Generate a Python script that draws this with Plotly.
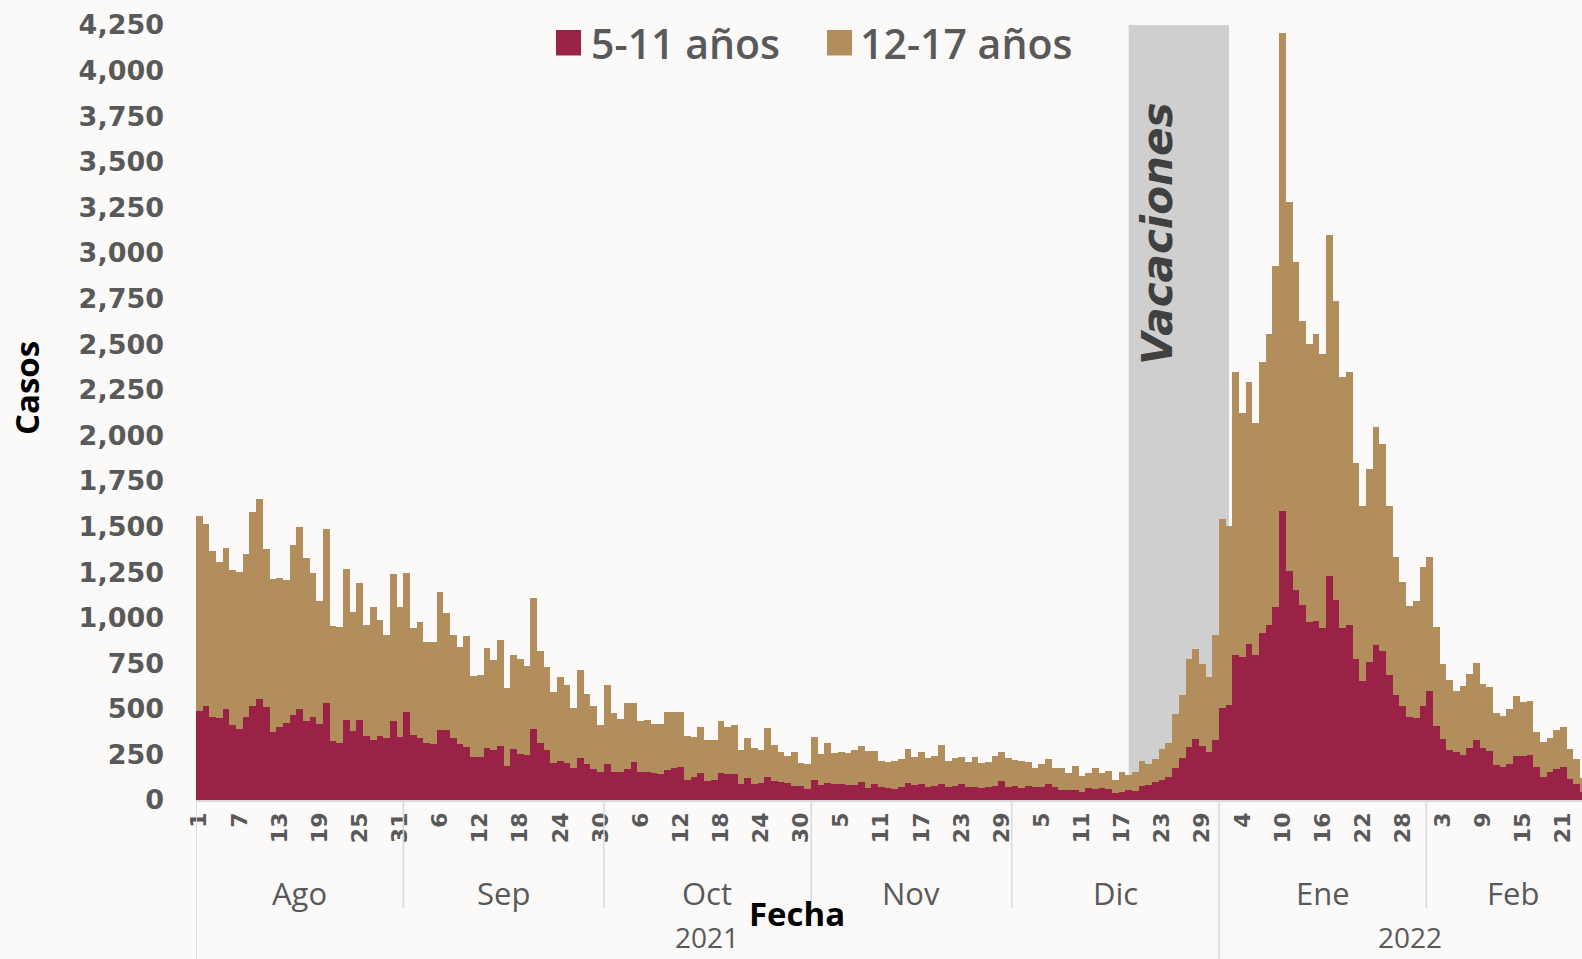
import pandas as pd
import plotly.graph_objects as go

# ---------------- data ----------------
fechas = pd.date_range("2021-08-01", "2022-02-24", freq="D")

casos_5_11 = [
    490, 515, 457, 448, 497, 411, 388, 453, 515, 556,
    508, 375, 402, 424, 464, 501, 435, 453, 417, 530,
    324, 311, 439, 378, 439, 353, 329, 351, 342, 433,
    347, 484, 356, 338, 311, 305, 384, 384, 338, 305,
    293, 238, 238, 283, 274, 298, 188, 278, 252, 247,
    388, 311, 274, 201, 216, 201, 174, 229, 197, 168,
    152, 196, 155, 155, 168, 207, 155, 155, 150, 141,
    165, 174, 179, 110, 128, 146, 106, 110, 146, 143,
    141, 86, 122, 88, 95, 124, 104, 99, 95, 79,
    78, 58, 110, 80, 95, 88, 88, 82, 80, 101,
    64, 88, 69, 64, 58, 69, 95, 82, 86, 73,
    78, 88, 69, 77, 86, 69, 73, 64, 69, 77,
    103, 73, 79, 64, 77, 71, 73, 86, 73, 55,
    55, 55, 46, 64, 60, 64, 58, 40, 46, 55,
    51, 77, 82, 101, 110, 124, 174, 229, 289, 336,
    296, 263, 328, 502, 519, 794, 786, 854, 794, 917,
    961, 1059, 1583, 1255, 1149, 1067, 977, 982, 942, 1231,
    1097, 942, 958, 775, 650, 756, 852, 819, 686, 578,
    515, 457, 451, 515, 600, 406, 333, 274, 261, 247,
    283, 329, 287, 270, 192, 183, 196, 243, 241, 247,
    179, 124, 155, 168, 179, 113, 88, 46,
]

casos_12_17 = [
    1067, 997, 908, 859, 883, 850, 861, 894, 1063, 1093,
    867, 835, 814, 782, 934, 998, 890, 790, 676, 955,
    632, 639, 826, 655, 749, 605, 728, 638, 565, 806,
    710, 763, 585, 640, 554, 560, 755, 640, 567, 532,
    606, 442, 448, 549, 494, 579, 428, 517, 521, 490,
    718, 508, 453, 393, 457, 430, 329, 484, 384, 349,
    259, 433, 320, 289, 362, 323, 278, 284, 267, 276,
    319, 311, 306, 241, 220, 256, 223, 219, 287, 256,
    269, 188, 216, 195, 179, 269, 196, 166, 146, 182,
    123, 139, 237, 172, 219, 168, 177, 174, 194, 197,
    206, 182, 145, 143, 156, 156, 185, 152, 175, 156,
    163, 214, 145, 152, 148, 141, 161, 141, 141, 164,
    162, 156, 140, 152, 133, 106, 124, 139, 104, 119,
    91, 131, 86, 86, 114, 82, 101, 70, 109, 82,
    101, 137, 115, 124, 168, 187, 298, 347, 486, 494,
    449, 414, 579, 1040, 984, 1555, 1337, 1440, 1274, 1484,
    1592, 1868, 2621, 2022, 1800, 1560, 1522, 1571, 1502, 1865,
    1640, 1377, 1391, 1075, 962, 1058, 1194, 1132, 924, 754,
    679, 607, 642, 765, 734, 543, 411, 384, 337, 378,
    406, 424, 349, 352, 283, 278, 301, 329, 295, 298,
    196, 192, 187, 216, 223, 165, 135, 73,
]

series_names = ["5-11 años", "12-17 años"]
meses = ["Ago", "Sep", "Oct", "Nov", "Dic", "Ene", "Feb"]
mes_inicio = ["2021-08-01", "2021-09-01", "2021-10-01", "2021-11-01",
              "2021-12-01", "2022-01-01", "2022-02-01"]
mes_fin = ["2021-08-31", "2021-09-30", "2021-10-31", "2021-11-30",
           "2021-12-31", "2022-01-31", "2022-02-26"]
anios = ["2021", "2022"]
anio_inicio = ["2021-08-01", "2022-01-01"]
anio_fin = ["2021-12-31", "2022-02-26"]
vacaciones = ("2021-12-18", "2022-01-02")

# ---------------- style ----------------
C_511 = "#9B2247"
C_1217 = "#B38E5D"
GRAY_TXT = "#595959"
LINE = "#D9D9D9"
W, H = 1582, 959
ML, MR, MT, MB = 196, 0, 25, 159
PW, PH = W - ML - MR, H - MT - MB

half = pd.Timedelta(hours=12)
x_start = fechas[0] - half
x_end = x_start + pd.Timedelta(days=PW / 6.686)


def px_x(px):
    return (px - ML) / PW


def px_y(py):
    return (H - MB - py) / PH


fig = go.Figure()
fig.add_trace(go.Bar(x=fechas, y=casos_5_11, name=series_names[0],
                     marker=dict(color=C_511, line=dict(width=0))))
fig.add_trace(go.Bar(x=fechas, y=casos_12_17, name=series_names[1],
                     marker=dict(color=C_1217, line=dict(width=0))))

shapes = []
# vacation band
shapes.append(dict(type="rect", xref="x", yref="y", x0=vacaciones[0], x1=vacaciones[1],
                   y0=0, y1=4250, fillcolor="#D0CFD0", line=dict(width=0), layer="below"))

annotations = []
# month labels and separators
for m, a, b in zip(meses, mes_inicio, mes_fin):
    a_ts = pd.Timestamp(a) - half
    b_ts = pd.Timestamp(b) + half
    mid = a_ts + (b_ts - a_ts) / 2
    annotations.append(dict(x=mid, y=px_y(893), xref="x", yref="paper", text=m,
                            showarrow=False, xanchor="center", yanchor="middle",
                            font=dict(family="Open Sans", size=31, color=GRAY_TXT)))
for a in mes_inicio:
    a_ts = pd.Timestamp(a) - half
    full = a in anio_inicio
    shapes.append(dict(type="line", xref="x", yref="paper",
                       x0=a_ts + pd.Timedelta(minutes=20), x1=a_ts + pd.Timedelta(minutes=20),
                       y0=0, y1=px_y(H) if full else px_y(908),
                       line=dict(color=LINE, width=1.5)))
for yname, a, b in zip(anios, anio_inicio, anio_fin):
    a_ts = pd.Timestamp(a) - half
    b_ts = pd.Timestamp(b) + half
    mid = a_ts + (b_ts - a_ts) / 2
    annotations.append(dict(x=mid, y=px_y(937), xref="x", yref="paper", text=yname,
                            showarrow=False, xanchor="center", yanchor="middle",
                            font=dict(family="Open Sans", size=28, color=GRAY_TXT)))

# vacation label
annotations.append(dict(x=pd.Timestamp("2021-12-22 09:00"), y=3104, xref="x", yref="y",
                        text="<b><i>Vacaciones</i></b>", textangle=-90, showarrow=False,
                        xanchor="center", yanchor="middle",
                        font=dict(family="DejaVu Sans", size=42, color="#404040")))

# axis titles
annotations.append(dict(x=px_x(797), y=px_y(913), xref="paper", yref="paper",
                        text="<b>Fecha</b>", showarrow=False,
                        xanchor="center", yanchor="middle",
                        font=dict(family="Open Sans", size=33, color="#000000")))
annotations.append(dict(x=px_x(26), y=px_y(388), xref="paper", yref="paper",
                        text="<b>Casos</b>", textangle=-90, showarrow=False,
                        xanchor="center", yanchor="middle",
                        font=dict(family="Open Sans", size=33, color="#000000")))

# legend (manual)
leg = [(556, 589, C_511, series_names[0]), (827, 858, C_1217, series_names[1])]
for sq_x, tx, col, name in leg:
    shapes.append(dict(type="rect", xref="paper", yref="paper",
                       x0=px_x(sq_x), x1=px_x(sq_x + 25), y0=px_y(55.5), y1=px_y(30),
                       fillcolor=col, line=dict(width=0)))
    annotations.append(dict(x=px_x(tx), y=px_y(42.5), xref="paper", yref="paper",
                            text=name, showarrow=False, xanchor="left", yanchor="middle",
                            font=dict(family="Open Sans", size=41, color=GRAY_TXT, weight=600)))

tick_dates = fechas[::6]
fig.update_layout(
    width=W, height=H,
    margin=dict(l=ML, r=MR, t=MT, b=MB, pad=0),
    paper_bgcolor="#FCFAF8", plot_bgcolor="rgba(0,0,0,0)",
    barmode="stack", bargap=0, showlegend=False,
    shapes=shapes, annotations=annotations,
    xaxis=dict(type="date", range=[x_start, x_end],
               tickvals=list(tick_dates), ticktext=[str(d.day) for d in tick_dates],
               tickangle=-90, ticks="", showgrid=False, zeroline=False,
               showline=True, linecolor=LINE, linewidth=1.5,
               ticklabelstandoff=2,
               tickfont=dict(family="DejaVu Sans", size=22, color=GRAY_TXT, weight="bold")),
    yaxis=dict(range=[0, 4250], tickvals=list(range(0, 4251, 250)), tickformat=",",
               showgrid=False, zeroline=False, showline=False, ticks="",
               ticklabelstandoff=31,
               tickfont=dict(family="DejaVu Sans", size=27, color=GRAY_TXT, weight="bold")),
)

fig.write_html(
    "out.html",
    config={"displayModeBar": False},
    post_script="document.body.style.margin='0';document.body.style.overflow='hidden';"
                "document.documentElement.style.overflow='hidden';",
)
